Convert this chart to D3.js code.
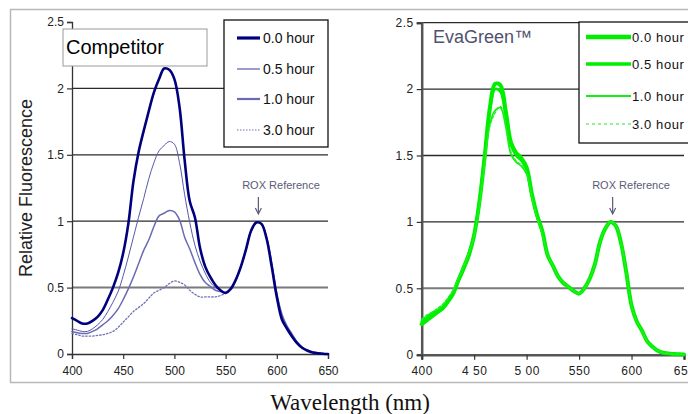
<!DOCTYPE html>
<html><head><meta charset="utf-8">
<script src="https://cdn.jsdelivr.net/npm/d3@7"></script>
<style>
html,body{margin:0;padding:0;background:#fff;}
svg{display:block;font-family:Arial,"Liberation Sans",sans-serif;}
</style></head>
<body><svg id="chart" width="688" height="414"></svg>
<script>
// ---- data ----
const wavelengths = d3.range(400, 651, 5);
const seriesNames = ["0.0 hour", "0.5 hour", "1.0 hour", "3.0 hour"];
const yTickValues = [0, 0.5, 1, 1.5, 2, 2.5];
const yTickLabels = ["0", "0.5", "1", "1.5", "2", "2.5"];
const xTickValues = [400, 450, 500, 550, 600, 650];
const xTickLabels = ["400", "450", "500", "550", "600", "650"];
const xTickLabelsRight = ["400", "4 50", "5 00", "550", "600", "650"];

// Competitor panel
const comp00 = [0.27,0.25,0.23,0.23,0.25,0.28,0.33,0.41,0.50,0.61,0.76,0.98,1.30,1.52,1.68,1.83,1.97,2.07,2.15,2.14,2.07,1.86,1.46,1.15,1.03,0.80,0.66,0.58,0.52,0.48,0.46,0.49,0.56,0.66,0.79,0.93,0.99,0.98,0.87,0.66,0.43,0.26,0.19,0.13,0.08,0.045,0.025,0.012,0.006,0.002,0.0];
const comp05 = [0.19,0.18,0.17,0.17,0.19,0.22,0.26,0.32,0.39,0.47,0.59,0.73,0.88,1.03,1.17,1.32,1.44,1.53,1.57,1.60,1.58,1.44,1.20,0.99,0.82,0.70,0.61,0.54,0.50,0.48,0.46,0.49,0.56,0.66,0.79,0.93,0.99,0.98,0.88,0.68,0.45,0.29,0.21,0.14,0.09,0.05,0.03,0.015,0.008,0.003,0.0];
const comp10 = [0.17,0.16,0.155,0.155,0.17,0.19,0.22,0.25,0.29,0.34,0.41,0.49,0.58,0.68,0.78,0.86,0.96,1.04,1.06,1.08,1.07,1.01,0.88,0.79,0.69,0.60,0.54,0.51,0.48,0.47,0.46,0.49,0.56,0.66,0.79,0.93,0.99,0.98,0.88,0.69,0.46,0.30,0.21,0.15,0.09,0.05,0.03,0.015,0.008,0.003,0.0];
const comp30 = [0.155,0.145,0.135,0.135,0.135,0.14,0.145,0.155,0.17,0.20,0.24,0.28,0.32,0.35,0.38,0.42,0.46,0.48,0.50,0.53,0.55,0.54,0.52,0.48,0.45,0.43,0.43,0.43,0.43,0.44,0.46,0.49,0.56,0.66,0.79,0.93,0.99,0.98,0.87,0.67,0.44,0.27,0.19,0.13,0.08,0.045,0.025,0.012,0.006,0.002,0.0];

// EvaGreen panel
const eva00 = [0.23,0.26,0.29,0.32,0.35,0.40,0.46,0.56,0.65,0.75,0.90,1.15,1.49,1.86,2.04,2.03,1.84,1.60,1.52,1.48,1.41,1.21,1.05,0.93,0.75,0.67,0.59,0.54,0.51,0.48,0.46,0.50,0.57,0.68,0.85,0.95,1.00,0.97,0.84,0.62,0.37,0.25,0.18,0.10,0.06,0.03,0.015,0.01,0.005,0.003,0.002];
const eva05 = [0.25,0.28,0.31,0.33,0.36,0.41,0.47,0.57,0.67,0.77,0.91,1.16,1.50,1.84,2.00,1.98,1.80,1.58,1.50,1.46,1.39,1.20,1.04,0.92,0.75,0.67,0.59,0.54,0.51,0.48,0.46,0.50,0.57,0.68,0.85,0.95,1.00,0.97,0.84,0.62,0.37,0.25,0.18,0.10,0.06,0.03,0.015,0.01,0.005,0.003,0.002];
const eva10 = [0.26,0.29,0.32,0.34,0.37,0.42,0.48,0.57,0.66,0.76,0.89,1.13,1.45,1.74,1.84,1.86,1.72,1.51,1.45,1.42,1.36,1.18,1.03,0.91,0.75,0.67,0.59,0.54,0.51,0.48,0.46,0.50,0.57,0.68,0.85,0.95,1.00,0.97,0.84,0.62,0.37,0.25,0.18,0.10,0.06,0.03,0.015,0.01,0.005,0.003,0.002];
const eva30 = [0.27,0.30,0.32,0.35,0.38,0.43,0.49,0.58,0.67,0.77,0.90,1.12,1.43,1.72,1.82,1.87,1.74,1.53,1.46,1.43,1.37,1.19,1.03,0.91,0.75,0.67,0.59,0.54,0.51,0.48,0.46,0.50,0.57,0.68,0.85,0.95,1.00,0.97,0.84,0.62,0.37,0.25,0.18,0.10,0.06,0.03,0.015,0.01,0.005,0.003,0.002];

const roxPeak = 582;

// ---- drawing ----
const svg = d3.select("#chart");

// outer frame
svg.append("rect").attr("x",10.5).attr("y",9.5).attr("width",700).attr("height",373)
  .attr("fill","none").attr("stroke","#b8b8b8").attr("stroke-width",1.5);

function panel(cfg){
  const x = d3.scaleLinear().domain([400,650]).range([cfg.x0,cfg.x1]);
  const y = d3.scaleLinear().domain([0,2.5]).range([cfg.y0,cfg.y1]);
  const g = svg.append("g");

  // gridlines
  const grid = cfg.topLine ? [0.5,1,1.5,2,2.5] : [0.5,1,1.5,2];
  g.selectAll("line.grid").data(grid).join("line")
    .attr("x1",cfg.x0).attr("x2",cfg.x1)
    .attr("y1",d=>y(d)).attr("y2",d=>y(d))
    .attr("stroke",d=>d===0.5?"#7a7a7a":"#2a2a2a")
    .attr("stroke-width",d=>d===0.5?2:1.3);

  // axes
  const ay = d3.axisLeft(y).tickValues(yTickValues).tickSize(5)
    .tickFormat((d,i)=>yTickLabels[i]);
  const ax = d3.axisBottom(x).tickValues(xTickValues).tickSize(5)
    .tickFormat((d,i)=>cfg.xLabels[i]);
  const gy = g.append("g").attr("transform",`translate(${cfg.x0},0)`).call(ay);
  const gx = g.append("g").attr("transform",`translate(0,${cfg.y0})`).call(ax);
  [gy,gx].forEach(a=>{
    a.select(".domain").attr("stroke",cfg.axisColor).attr("stroke-width",cfg.axisWidth);
    a.selectAll(".tick line").attr("stroke","#333").attr("stroke-width",1.2);
    a.selectAll(".tick text").attr("fill","#222").style("font-size","12px")
      .style("font-family","Arial, 'Liberation Sans', sans-serif")
      .style("letter-spacing",cfg.ls);
  });
  gy.selectAll(".tick text").attr("x",-8);
  gx.selectAll(".tick text").attr("y",12);

  // curves
  const line = d3.line().x(d=>x(d[0])).y(d=>y(d[1])).curve(d3.curveCatmullRom.alpha(0.5));
  cfg.series.forEach(s=>{
    g.append("path").datum(wavelengths.map((w,i)=>[w,s.values[i]]))
      .attr("d",line).attr("fill","none")
      .attr("stroke",s.color).attr("stroke-width",s.width)
      .attr("stroke-dasharray",s.dash||null)
      .attr("stroke-linejoin","round").attr("stroke-linecap","round");
  });

  // ROX annotation
  const ax0 = x(roxPeak);
  g.append("text").attr("x",cfg.roxTextX).attr("y",189).attr("text-anchor","middle")
    .attr("fill","#5a5a78").style("font-size","11px").text("ROX Reference");
  g.append("line").attr("x1",ax0).attr("x2",ax0).attr("y1",197).attr("y2",213)
    .attr("stroke","#5a5a78").attr("stroke-width",1.2);
  g.append("path").attr("d",`M${ax0-3},${208}L${ax0},${214}L${ax0+3},${208}`)
    .attr("fill","none").attr("stroke","#5a5a78").attr("stroke-width",1.2);

  // legend
  const lg = g.append("g");
  lg.append("rect").attr("x",cfg.leg.x).attr("y",cfg.leg.y).attr("width",cfg.leg.w).attr("height",cfg.leg.h)
    .attr("fill","#fff").attr("stroke","#111").attr("stroke-width",1.3);
  cfg.series.slice().sort((a,b)=>a.order-b.order).forEach((s,i)=>{
    const yy = cfg.leg.rows[i];
    lg.append("line").attr("x1",cfg.leg.lx0).attr("x2",cfg.leg.lx1).attr("y1",yy).attr("y2",yy)
      .attr("stroke",s.color).attr("stroke-width",s.legWidth).attr("stroke-dasharray",s.legDash||null);
    lg.append("text").attr("x",cfg.leg.tx).attr("y",yy+5).attr("fill","#111")
      .style("font-size",cfg.leg.fs).style("letter-spacing",cfg.leg.ls).text(seriesNames[s.order]);
  });
  return {x,y,g};
}

// Competitor
const left = panel({
  x0:72, x1:328, y0:354, y1:22, topLine:false, axisColor:"#333", axisWidth:1.3,
  xLabels:xTickLabels, ls:"0px", roxTextX:281,
  series:[
    {order:3, values:comp30, color:"#7070b8", width:1.3, dash:"1.5,2", legWidth:1.2, legDash:"1.5,1.5"},
    {order:2, values:comp10, color:"#6a6ab4", width:1.5, legWidth:2.2},
    {order:1, values:comp05, color:"#5858ac", width:1, legWidth:1.2},
    {order:0, values:comp00, color:"#00007e", width:2.6, legWidth:3.2}
  ],
  leg:{x:224, y:20, w:104, h:127, rows:[38,69,99,130], lx0:237, lx1:260, tx:263, fs:"14px", ls:"0px"}
});
const tb = left.g.append("g");
tb.append("rect").attr("x",63).attr("y",29).attr("width",144).attr("height",37)
  .attr("fill","#fff").attr("stroke","#9a9a9a").attr("stroke-width",1);
tb.append("text").attr("x",66).attr("y",54).attr("fill","#000").style("font-size","20px").text("Competitor");

// EvaGreen
const right = panel({
  x0:421.7, x1:684, y0:354.7, y1:22.7, topLine:true, axisColor:"#555", axisWidth:2.5,
  xLabels:xTickLabelsRight, ls:"0.5px", roxTextX:631,
  series:[
    {order:0, values:eva00, color:"#00ee00", width:4, legWidth:4.5},
    {order:1, values:eva05, color:"#00ee00", width:2.6, legWidth:3.5},
    {order:2, values:eva10, color:"#10f010", width:1.6, legWidth:2},
    {order:3, values:eva30, color:"#22f022", width:1.2, dash:"3,2", legWidth:1.2, legDash:"3,3"}
  ],
  leg:{x:579, y:22, w:110, h:121, rows:[37,64,96,124], lx0:586, lx1:631, tx:632, fs:"13px", ls:"0.6px"}
});
right.g.append("text").attr("x",433).attr("y",43).attr("fill","#505070").style("font-size","18px").text("EvaGreen\u2122");

// axis titles
svg.append("text").attr("transform","translate(32,188) rotate(-90)").attr("text-anchor","middle")
  .attr("fill","#222").style("font-size","18px").text("Relative Fluorescence");
svg.append("text").attr("x",350).attr("y",410).attr("text-anchor","middle")
  .attr("fill","#111").style("font-family","'Liberation Serif','Times New Roman',serif")
  .style("font-size","23px").text("Wavelength (nm)");
</script></body></html>
